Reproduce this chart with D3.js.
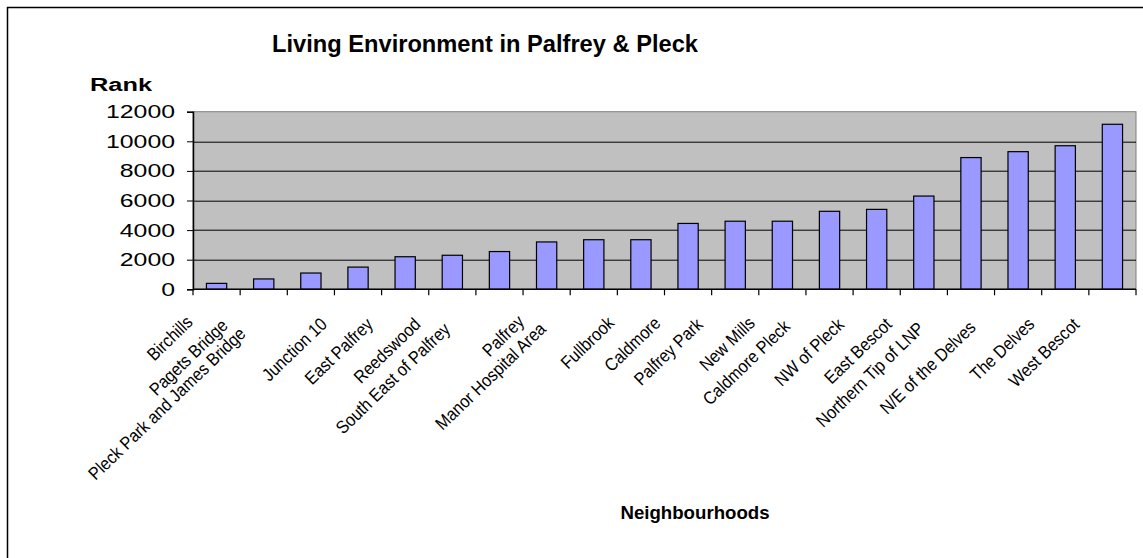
<!DOCTYPE html>
<html>
<head>
<meta charset="utf-8">
<script src="https://cdn.jsdelivr.net/npm/d3@7"></script>
<style>
  body { margin: 0; background: #fff; }
  text { font-family: Arial, "Liberation Sans", sans-serif; }
</style>
</head>
<body>
<div id="body"></div>
<script>
var neighbourhoods = ["Birchills", "Pagets Bridge", "Pleck Park and James Bridge", "Junction 10", "East Palfrey",
  "Reedswood", "South East of Palfrey", "Palfrey", "Manor Hospital Area", "Fullbrook", "Caldmore",
  "Palfrey Park", "New Mills", "Caldmore Pleck", "NW of Pleck", "East Bescot", "Northern Tip of LNP",
  "N/E of the Delves", "The Delves", "West Bescot"];
var ranks = [400, 700, 1100, 1500, 2200, 2300, 2550, 3200, 3350, 3350, 4450,
  4600, 4600, 5270, 5400, 6300, 8900, 9300, 9700, 11150];
var yTicks = [0, 2000, 4000, 6000, 8000, 10000, 12000];

var width = 1143;
var height = 558;
var margin = { top: 111.7, right: 7, bottom: 268.7, left: 193 };
var plotW = width - margin.left - margin.right;
var plotH = height - margin.top - margin.bottom;

var svg = d3.select("#body")
  .append("svg")
  .attr("width", width)
  .attr("height", height);

// outer chart border (only left and top are visible in the frame)
svg.append("rect")
  .attr("x", 7.5)
  .attr("y", 7.5)
  .attr("width", 1200)
  .attr("height", 600)
  .attr("fill", "none")
  .attr("stroke", "#000")
  .attr("stroke-width", 1.5);

var g = svg.append("g")
  .attr("transform", "translate(" + margin.left + "," + margin.top + ")");

var x = d3.scaleBand()
  .domain(neighbourhoods)
  .range([0, plotW])
  .paddingInner(0.57)
  .paddingOuter(0.285);

var y = d3.scaleLinear()
  .domain([0, 12000])
  .range([plotH, 0]);

g.append("rect")
  .attr("width", plotW)
  .attr("height", plotH)
  .attr("fill", "#c0c0c0")
  .attr("stroke", "#808080")
  .attr("stroke-width", 1);

// gridlines
g.append("g")
  .selectAll("line")
  .data(yTicks.slice(1, -1))
  .enter()
  .append("line")
  .attr("x1", 0)
  .attr("x2", plotW)
  .attr("y1", function(d) { return Math.round(y(d)) + 0.5; })
  .attr("y2", function(d) { return Math.round(y(d)) + 0.5; })
  .attr("stroke", "#000")
  .attr("stroke-width", 1);

g.append("g")
  .selectAll("rect")
  .data(ranks)
  .enter()
  .append("rect")
  .attr("x", function(d, i) { return x(neighbourhoods[i]); })
  .attr("y", function(d) { return y(d); })
  .attr("width", x.bandwidth())
  .attr("height", function(d) { return plotH - y(d); })
  .attr("fill", "#9999ff")
  .attr("stroke", "#000")
  .attr("stroke-width", 1.2);

// y axis
var yAxis = g.append("g")
  .call(d3.axisLeft(y).tickValues(yTicks).tickSize(6).tickPadding(12).tickFormat(d3.format("d")));
yAxis.select(".domain").attr("stroke-width", 1.5);
yAxis.selectAll("text")
  .attr("font-size", 19)
  .attr("fill", "#000")
  .attr("font-family", "Arial, 'Liberation Sans', sans-serif")
  .attr("textLength", function(d) { return String(d).length * 13.8; })
  .attr("lengthAdjust", "spacingAndGlyphs");

// x axis: ticks on category boundaries
var xAxis = g.append("g")
  .attr("transform", "translate(0," + plotH + ")");
xAxis.append("line")
  .attr("x1", 0)
  .attr("x2", plotW)
  .attr("stroke", "#000")
  .attr("stroke-width", 1.5);
xAxis.selectAll(".tick")
  .data(d3.range(neighbourhoods.length + 1))
  .enter()
  .append("line")
  .attr("class", "tick")
  .attr("x1", function(d) { return d * x.step(); })
  .attr("x2", function(d) { return d * x.step(); })
  .attr("y1", 0)
  .attr("y2", 6)
  .attr("stroke", "#000")
  .attr("stroke-width", 1.2);

// rotated category labels, squeezed like the original rendering
var labels = xAxis.selectAll(".lab")
  .data(neighbourhoods)
  .enter()
  .append("text")
  .attr("class", "lab")
  .attr("font-size", 18)
  .attr("text-anchor", "end")
  .text(function(d) { return d; });

labels.each(function(d) {
  var el = d3.select(this);
  var w = this.getComputedTextLength();
  var len = w * 0.89;
  var cx = x(d) + x.bandwidth() / 2 - (8 + 0.267 * len);
  var cy = 30 + 0.075 * len;
  el.attr("textLength", len)
    .attr("lengthAdjust", "spacingAndGlyphs")
    .attr("transform", "translate(" + cx + "," + cy + ") rotate(-44)");
});

// titles
svg.append("text")
  .attr("x", 485)
  .attr("y", 52)
  .attr("text-anchor", "middle")
  .attr("font-size", 24)
  .attr("font-weight", "bold")
  .attr("textLength", 426)
  .attr("lengthAdjust", "spacingAndGlyphs")
  .text("Living Environment in Palfrey & Pleck");

svg.append("text")
  .attr("x", 90)
  .attr("y", 91)
  .attr("font-size", 18)
  .attr("font-weight", "bold")
  .attr("textLength", 62)
  .attr("lengthAdjust", "spacingAndGlyphs")
  .text("Rank");

svg.append("text")
  .attr("x", 695)
  .attr("y", 519)
  .attr("text-anchor", "middle")
  .attr("font-size", 18)
  .attr("font-weight", "bold")
  .attr("textLength", 149)
  .attr("lengthAdjust", "spacingAndGlyphs")
  .text("Neighbourhoods");
</script>
</body>
</html>
